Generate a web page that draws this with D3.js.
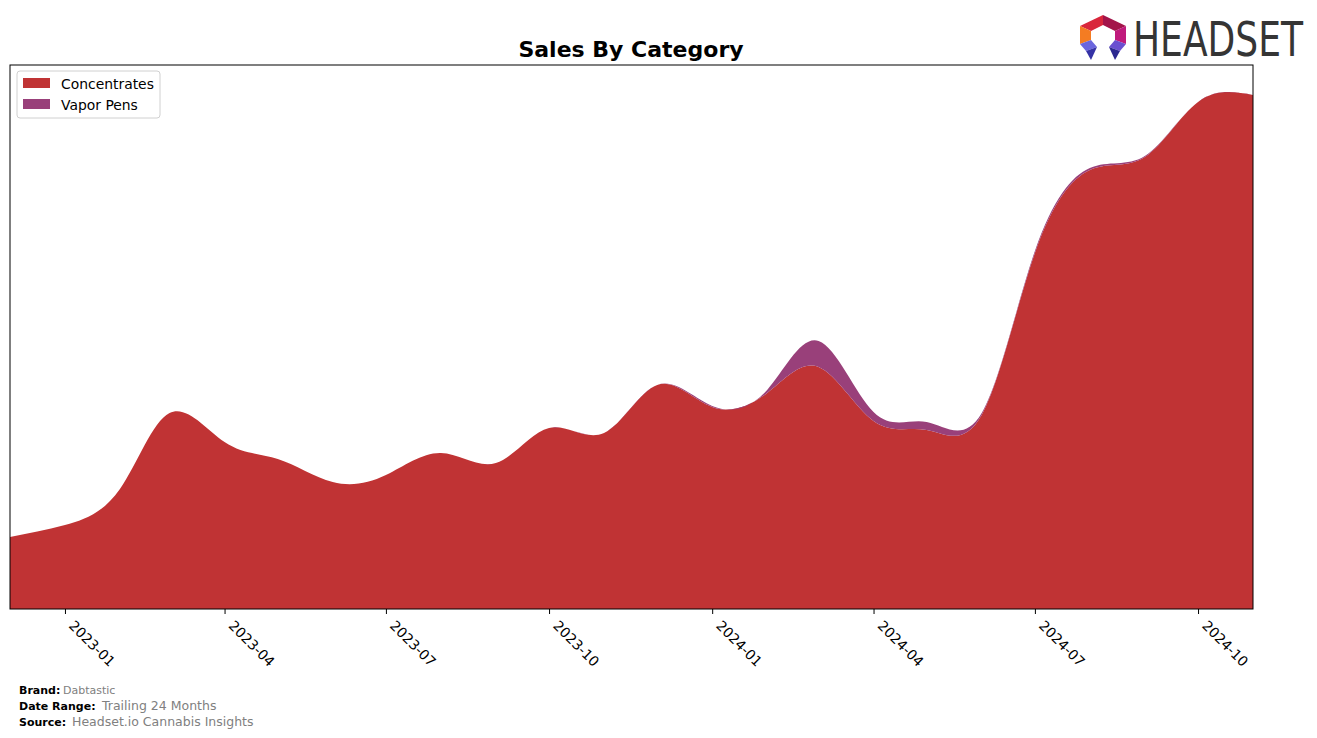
<!DOCTYPE html>
<html>
<head>
<meta charset="utf-8">
<script src="https://cdn.jsdelivr.net/npm/d3@7"></script>
<style>
  html, body { margin: 0; padding: 0; background: #fff; }
  svg { display: block; font-family: "DejaVu Sans", sans-serif; }
</style>
</head>
<body>
<svg id="chart" width="1317" height="738"></svg>
<script>
// ---- data ----
const months = ["2022-12","2023-01","2023-02","2023-03","2023-04","2023-05","2023-06","2023-07",
  "2023-08","2023-09","2023-10","2023-11","2023-12","2024-01","2024-02","2024-03","2024-04",
  "2024-05","2024-06","2024-07","2024-08","2024-09","2024-10","2024-11"];
const concentrates = [72, 84, 120, 196, 167, 150, 127, 134, 156, 146, 181, 176, 224, 202, 216, 242,
  188, 179, 194, 356, 439, 452, 507, 514];
const vaporPens = [0, 0, 0, 0, 0, 0, 0, 0, 0, 0, 0, 0, 0, 1, 3, 26, 9, 8, 2, 2, 2, 1, 0, 0];
const seriesNames = ["Concentrates", "Vapor Pens"];
const seriesColors = ["#c03334", "#99407a"];
const tickDates = ["2023-01","2023-04","2023-07","2023-10","2024-01","2024-04","2024-07","2024-10"];

// ---- layout ----
const svg = d3.select("#chart");
const L = 10, R = 1253, T = 65, B = 609;
const parse = d3.utcParse("%Y-%m");
const rows = months.map((m, i) => ({ date: parse(m), "Concentrates": concentrates[i], "Vapor Pens": vaporPens[i] }));

const x = d3.scaleUtc().domain(d3.extent(rows, d => d.date)).range([L, R]);
const maxTotal = 518; // peak of smoothed curve
const y = d3.scaleLinear().domain([0, maxTotal * 1.05]).range([B, T]);

const stack = d3.stack().keys(seriesNames);
const layers = stack(rows);

const area = d3.area()
  .x(d => x(d.data.date))
  .y0(d => y(d[0]))
  .y1(d => y(d[1]))
  .curve(d3.curveNatural);

svg.append("defs").append("clipPath").attr("id", "clip")
  .append("rect").attr("x", L).attr("y", T).attr("width", R - L).attr("height", B - T);

svg.append("g").attr("clip-path", "url(#clip)")
  .selectAll("path").data(layers).join("path")
  .attr("d", area)
  .attr("fill", (d, i) => seriesColors[i]);

// frame
svg.append("rect").attr("x", L).attr("y", T).attr("width", R - L).attr("height", B - T)
  .attr("fill", "none").attr("stroke", "#000").attr("stroke-width", 1);

// x axis
const xAxis = d3.axisBottom(x)
  .tickValues(tickDates.map(parse))
  .tickFormat(d3.utcFormat("%Y-%m"))
  .tickSize(5).tickSizeOuter(0);
const gx = svg.append("g").attr("transform", `translate(0,${B})`).call(xAxis);
gx.select(".domain").remove();
gx.selectAll(".tick line").attr("stroke", "#000");
gx.selectAll(".tick text")
  .attr("font-size", "13.9px").attr("fill", "#000")
  .attr("font-family", "DejaVu Sans")
  .attr("text-anchor", "start")
  .attr("x", 0).attr("y", 0).attr("dy", "0.75em")
  .attr("transform", "translate(10,10) rotate(45)");

// title
svg.append("text").attr("x", 631).attr("y", 57).attr("text-anchor", "middle")
  .attr("font-size", "22px").attr("font-weight", "bold").attr("fill", "#000")
  .text("Sales By Category");

// legend
const lg = svg.append("g");
lg.append("rect").attr("x", 17).attr("y", 71).attr("width", 143).attr("height", 47).attr("rx", 3)
  .attr("fill", "#fff").attr("fill-opacity", 0.8).attr("stroke", "#d0d0d0");
seriesNames.forEach((s, i) => {
  lg.append("rect").attr("x", 23).attr("y", 78 + i * 21).attr("width", 27).attr("height", 10)
    .attr("fill", seriesColors[i]);
  lg.append("text").attr("x", 61).attr("y", 89 + i * 21).attr("font-size", "13.9px")
    .attr("fill", "#000").text(s);
});

// footer
const foot = [
  { k: "Brand:", v: "Dabtastic", y: 694, vx: 63, vs: 11 },
  { k: "Date Range:", v: "Trailing 24 Months", y: 710, vx: 102, vs: 12.5 },
  { k: "Source:", v: "Headset.io Cannabis Insights", y: 726, vx: 72, vs: 12.5 }
];
foot.forEach(f => {
  svg.append("text").attr("x", 19).attr("y", f.y).attr("font-size", "11px")
    .attr("font-weight", "bold").attr("fill", "#000").text(f.k);
  svg.append("text").attr("x", f.vx).attr("y", f.y).attr("font-size", f.vs + "px")
    .attr("fill", "#808080").text(f.v);
});

// logo
const logo = svg.append("g");
const poly = (pts, c) => logo.append("polygon")
  .attr("points", pts.map(q => q.join(",")).join(" ")).attr("fill", c);
poly([[1080, 26], [1103, 15], [1103, 25], [1091, 31]], "#d9263b");
poly([[1103, 15], [1126, 26], [1115, 31], [1103, 25]], "#a3144a");
poly([[1126, 26], [1126, 44], [1115, 40], [1115, 31]], "#c01a7c");
poly([[1080, 26], [1091, 31], [1091, 40], [1080, 44]], "#f47c22");
poly([[1080, 44], [1091, 40], [1097, 47], [1086, 51]], "#6b66de");
poly([[1086, 51], [1097, 47], [1091, 60]], "#3532a6");
poly([[1126, 44], [1115, 40], [1109, 47], [1120, 51]], "#6a4fd0");
poly([[1120, 51], [1109, 47], [1115, 60]], "#2b2890");
logo.append("text")
  .attr("transform", "translate(1133,56) scale(1,1.12)")
  .attr("font-size", "43px")
  .attr("font-family", "'Liberation Sans Narrow', 'DejaVu Sans Condensed', sans-serif")
  .attr("textLength", 170).attr("lengthAdjust", "spacingAndGlyphs")
  .attr("fill", "#353535").text("HEADSET");
</script>
</body>
</html>
